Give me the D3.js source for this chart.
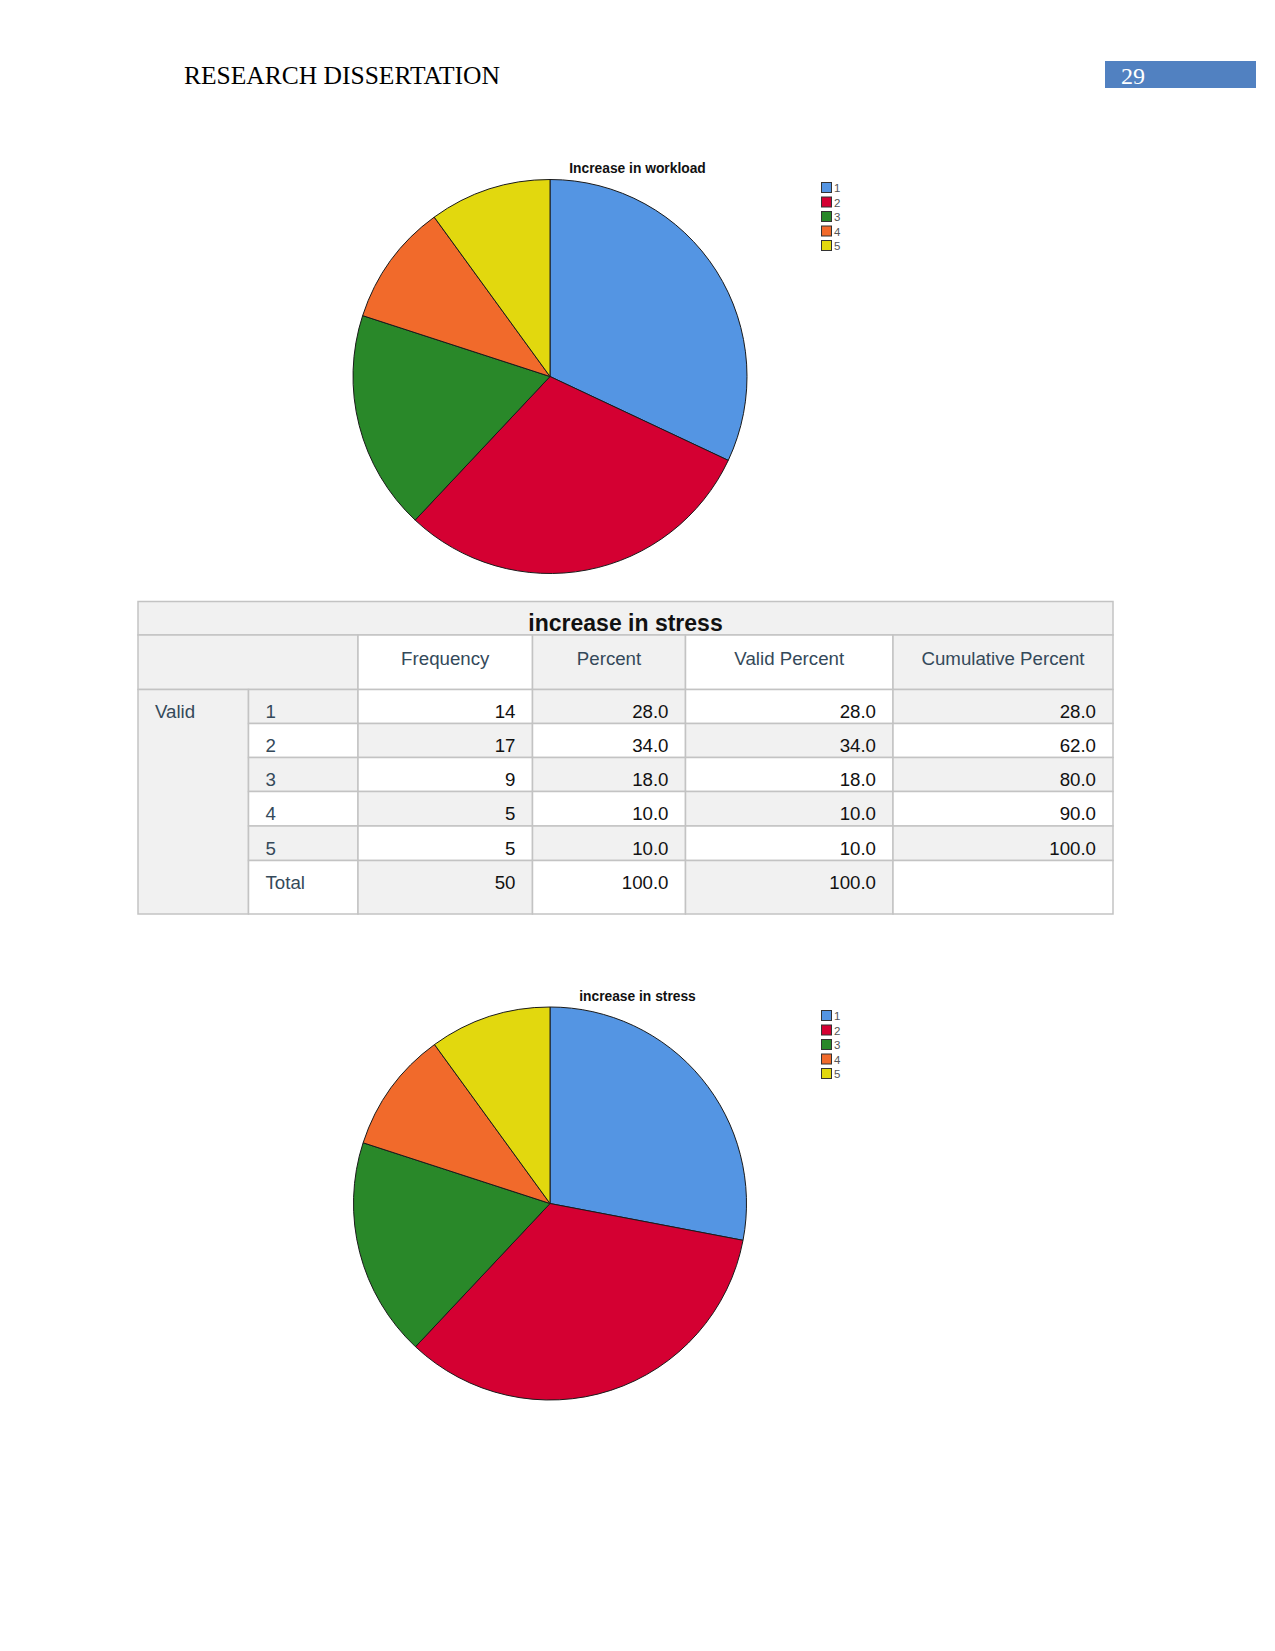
<!DOCTYPE html>
<html>
<head>
<meta charset="utf-8">
<script src="https://cdn.jsdelivr.net/npm/d3@7"></script>
<style>
  html, body { margin: 0; padding: 0; background: #ffffff; }
  svg { display: block; }
</style>
</head>
<body>
<div id="chart"></div>
<script>
// ---------- DATA ----------
const categories = ["1", "2", "3", "4", "5"];
const workloadCounts = [16, 15, 9, 5, 5];
const stressCounts = [14, 17, 9, 5, 5];
const sliceColors = ["#5495e3", "#d40032", "#298829", "#f16a2b", "#e2d80e"];

const headerTitle = "RESEARCH DISSERTATION";
const pageNumber = "29";

const chart1Title = "Increase in workload";
const chart2Title = "increase in stress";

const tableTitle = "increase in stress";
const tableColumns = ["Frequency", "Percent", "Valid Percent", "Cumulative Percent"];
const validLabel = "Valid";
const totalLabel = "Total";
const frequencyValues = [14, 17, 9, 5, 5];
const percentValues = ["28.0", "34.0", "18.0", "10.0", "10.0"];
const validPercentValues = ["28.0", "34.0", "18.0", "10.0", "10.0"];
const cumulativeValues = ["28.0", "62.0", "80.0", "90.0", "100.0"];
const totalRow = ["50", "100.0", "100.0", ""];

// ---------- LAYOUT ----------
const W = 1275, H = 1651;
const svg = d3.select("#chart").append("svg")
  .attr("width", W).attr("height", H)
  .attr("viewBox", `0 0 ${W} ${H}`);

// Header
svg.append("text")
  .attr("x", 184).attr("y", 84)
  .attr("font-family", "'Liberation Serif', 'Times New Roman', serif")
  .attr("font-size", 25.5).attr("fill", "#000")
  .text(headerTitle);
svg.append("rect")
  .attr("x", 1105).attr("y", 61).attr("width", 151).attr("height", 27)
  .attr("fill", "#5181c1");
svg.append("text")
  .attr("x", 1121).attr("y", 84)
  .attr("font-family", "'Liberation Serif', 'Times New Roman', serif")
  .attr("font-size", 24).attr("fill", "#ffffff")
  .text(pageNumber);

// ---------- PIES ----------
const pie = d3.pie().sort(null).value(d => d).startAngle(0).endAngle(2 * Math.PI);
const color = d3.scaleOrdinal().domain(categories).range(sliceColors);

function drawPie(counts, title, cx, cy, r, legendX, legendY) {
  const g = svg.append("g").attr("transform", `translate(${cx},${cy})`);
  const arc = d3.arc().innerRadius(0).outerRadius(r);
  g.selectAll("path")
    .data(pie(counts))
    .join("path")
    .attr("d", arc)
    .attr("fill", (d, i) => color(categories[i]))
    .attr("stroke", "#1a1a1a")
    .attr("stroke-width", 1)
    .attr("stroke-linejoin", "round");

  svg.append("text")
    .attr("x", 637.5).attr("y", cy - r - 6.5)
    .attr("text-anchor", "middle")
    .attr("font-family", "'Liberation Sans', Arial, sans-serif")
    .attr("font-weight", "bold")
    .attr("font-size", 13.8)
    .attr("fill", "#111")
    .text(title);

  const leg = svg.append("g").attr("transform", `translate(${legendX},${legendY})`);
  const items = leg.selectAll("g").data(categories).join("g")
    .attr("transform", (d, i) => `translate(0,${i * 14.5})`);
  items.append("rect")
    .attr("x", 0.5).attr("y", 0.5).attr("width", 10).attr("height", 10)
    .attr("fill", d => color(d))
    .attr("stroke", "#333").attr("stroke-width", 1);
  items.append("text")
    .attr("x", 13).attr("y", 10)
    .attr("font-family", "'Liberation Sans', Arial, sans-serif")
    .attr("font-size", 11.5)
    .attr("fill", "#555")
    .text(d => d);
}

drawPie(workloadCounts, chart1Title, 550, 376.5, 197, 821, 182);
drawPie(stressCounts, chart2Title, 550, 1203.5, 196.5, 821, 1010);

// ---------- TABLE ----------
const colX = [138, 248.5, 358, 532.5, 685.5, 893, 1113];
const rowY = [601.5, 635, 689.5, 723.5, 757.5, 791.5, 826, 860.5, 914];
const GREY = "#f1f1f1", WHITE = "#ffffff", BORDER = "#c3c3c3";
const labelColor = "#34495a", valueColor = "#111";
const tfont = "'Liberation Sans', Arial, sans-serif";
const FS = 18.7;

const tg = svg.append("g");
function cell(c0, c1, r0, r1, fill) {
  tg.append("rect")
    .attr("x", colX[c0]).attr("y", rowY[r0])
    .attr("width", colX[c1] - colX[c0]).attr("height", rowY[r1] - rowY[r0])
    .attr("fill", fill).attr("stroke", BORDER).attr("stroke-width", 1.5);
}
function txt(x, y, s, anchor, col, size, weight) {
  tg.append("text")
    .attr("x", x).attr("y", y)
    .attr("text-anchor", anchor)
    .attr("font-family", tfont)
    .attr("font-size", size || FS)
    .attr("font-weight", weight || "normal")
    .attr("fill", col)
    .text(s);
}

// title row
cell(0, 6, 0, 1, GREY);
txt((colX[0] + colX[6]) / 2, 630.5, tableTitle, "middle", "#111", 23, "bold");

// header row
cell(0, 2, 1, 2, GREY);
const headerFills = [WHITE, GREY, WHITE, GREY];
tableColumns.forEach((h, i) => {
  cell(i + 2, i + 3, 1, 2, headerFills[i]);
  txt((colX[i + 2] + colX[i + 3]) / 2, rowY[1] + 30, h, "middle", labelColor);
});

// Valid column
cell(0, 1, 2, 8, GREY);
txt(colX[0] + 17, rowY[2] + 28.5, validLabel, "start", labelColor);

// data rows
const bodyRows = categories.map((c, i) => [c, String(frequencyValues[i]), percentValues[i], validPercentValues[i], cumulativeValues[i]]);
bodyRows.push([totalLabel].concat(totalRow));
bodyRows.forEach((row, r) => {
  row.forEach((v, c) => {
    const fill = ((r + c) % 2 === 0) ? GREY : WHITE;
    cell(c + 1, c + 2, r + 2, r + 3, fill);
    const y = rowY[r + 2] + 28.5;
    if (c === 0) {
      txt(colX[1] + 17, y, v, "start", labelColor);
    } else if (v !== "") {
      txt(colX[c + 2] - 17, y, v, "end", valueColor);
    }
  });
});
</script>
</body>
</html>
